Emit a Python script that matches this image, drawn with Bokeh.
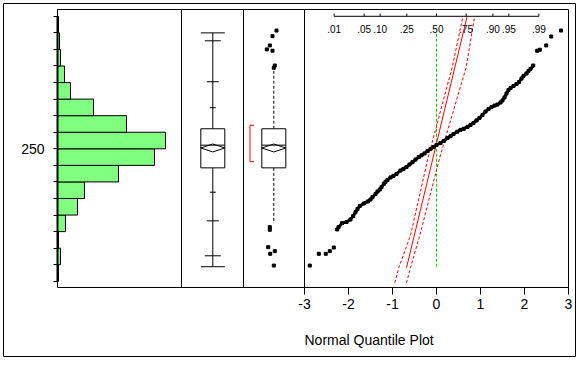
from statistics import NormalDist
from bokeh.plotting import figure
from bokeh.models import Range1d, LinearAxis, FixedTicker, Label
from bokeh.core.properties import value
from bokeh.embed import file_html
from bokeh.resources import INLINE

FONT = "Liberation Sans"

# ---------------- data ----------------
# histogram (value bins of width 10, counts)
bin_low = [170, 180, 190, 200, 210, 220, 230, 240, 250, 260, 270, 280, 290, 300, 310, 320]
bin_counts = [1, 3, 1, 8, 20, 27, 61, 97, 108, 69, 36, 13, 7, 3, 2, 1]
bin_width = 10

# quantile box plot
quantile_names = ["max", "99.5%", "97.5%", "90%", "75%", "median", "25%", "10%", "2.5%", "0.5%", "min"]
quantile_values = [320.0, 315.2, 290.5, 274.8, 262.1, 252.2, 238.5, 223.8, 206.5, 185.4, 178.8]
mean_value = 250.5
mean_ci = [248.1, 252.9]

# outlier box plot
whisker_low = 205.1
whisker_high = 300.3
shortest_half = [242.2, 264.2]
outlier_values = [321.4, 318.0, 312.4, 310.0, 309.2, 300.3, 298.9, 202.7, 201.1, 190.6, 188.2, 186.6, 179.5]
outlier_jitter = [2.7, -1.3, -4.0, -7.0, -1.3, 1.0, 0.0, -4.0, -4.0, -5.6, 1.0, -3.6, 0.0]

# normal quantile plot points (normal quantile, value)
qq_low_q = [-2.880, -2.675, -2.516, -2.425, -2.334]
qq_low_v = [179.5, 186.6, 186.6, 188.2, 190.4]
qq_q = [-2.257, -2.227, -2.148, -2.045, -1.955, -1.893, -1.841, -1.795, -1.743, -1.652,
        -1.561, -1.500, -1.455, -1.386, -1.341, -1.289, -1.250, -1.198, -1.159, -1.114,
        -1.045, -0.977, -0.909, -0.818, -0.750, -0.682, -0.614, -0.545, -0.477, -0.402,
        -0.341, -0.273, -0.205, -0.136, -0.068, 0.000, 0.091, 0.166, 0.250, 0.318,
        0.386, 0.470, 0.545, 0.620, 0.705, 0.773, 0.841, 0.909, 0.977, 1.045,
        1.114, 1.182, 1.250, 1.318, 1.386, 1.455, 1.500, 1.545, 1.591, 1.636,
        1.682, 1.750, 1.818, 1.875, 1.932, 1.977, 2.045, 2.091, 2.136, 2.198]
qq_v = [201.3, 202.7, 205.1, 205.8, 207.3, 209.4, 211.7, 213.7, 215.5, 217.0,
        218.2, 219.4, 220.8, 222.7, 224.2, 225.4, 226.8, 228.9, 230.1, 231.2,
        232.7, 233.7, 234.8, 236.9, 237.9, 239.0, 240.5, 241.9, 243.5, 245.0,
        246.1, 247.2, 248.6, 249.9, 251.1, 252.3, 253.5, 254.8, 256.5, 257.6,
        258.9, 260.3, 261.4, 262.1, 263.2, 264.4, 265.6, 267.1, 268.6, 270.4,
        272.5, 274.0, 275.2, 276.1, 276.7, 278.0, 279.2, 281.0, 283.4, 285.5,
        286.7, 287.9, 289.1, 290.3, 292.4, 294.0, 295.5, 297.0, 298.2, 300.3]
qq_high_q = [2.289, 2.348, 2.493, 2.607, 2.830]
qq_high_v = [309.2, 309.8, 312.4, 317.8, 321.4]

# fitted normal line and confidence bands (quantile, value)
fit_q = [-0.682, 0.693]
fit_v = [178.2, 329.5]
band_v = [169.1, 178.2, 197.7, 244.9, 299.3, 329.5]
band_lo_q = [-0.948, -0.857, -0.591, -0.189, 0.357, 0.598]
band_hi_q = [-0.682, -0.591, -0.380, 0.075, 0.675, 0.864]

# axes
y_ticks = list(range(170, 331, 10))
y_tick_labels = {250: "250"}
x_ticks = [-3, -2, -1, 0, 1, 2, 3]
x_tick_labels = ["-3", "-2", "-1", "0", "1", "2", "3"]
prob_ticks = [0.01, 0.05, 0.10, 0.25, 0.50, 0.75, 0.90, 0.95, 0.99]
prob_labels = [".01", ".05", ".10", ".25", ".50", ".75", ".90", ".95", ".99"]
prob_axis_value = 330.0
prob_label_value = 322.45
xlabel = "Normal Quantile Plot"
xlabel_value = 134.86

# ---------------- layout ----------------
W, H = 578, 359
# outer box = plot frame; inner plotting box drawn inside it
X0, X1 = -9.84091, 3.15909          # quantile units across outer box (44 px / unit)
Y0, Y1 = 124.596, 337.728           # value units across outer box
IN_LEFT, IN_RIGHT = -8.6136, 3.0    # inner box edges (quantile units)
IN_BOTTOM, IN_TOP = 166.26, 334.11  # inner box edges (value units)
PX0, PX1 = -54, 518                 # pixel offsets from inner box left edge

p = figure(width=W, height=H, x_range=Range1d(X0, X1), y_range=Range1d(Y0, Y1),
           output_backend="svg", toolbar_location=None,
           x_axis_type=None, y_axis_type=None,
           min_border_left=3, min_border_right=3, min_border_top=3, min_border_bottom=3)
p.background_fill_color = "white"
p.border_fill_color = "white"
p.outline_line_color = "black"
p.outline_line_width = 1
p.extra_x_ranges = {"hist": Range1d(PX0, PX1), "px": Range1d(PX0, PX1)}

# inner box
p.quad(left=IN_LEFT, right=IN_RIGHT, bottom=IN_BOTTOM, top=IN_TOP,
       fill_color=None, line_color="black", line_width=1)

# panel separators
sep_px = [124, 186, 247]
p.segment(x0=sep_px, x1=sep_px, y0=[IN_BOTTOM] * 3, y1=[IN_TOP] * 3, x_range_name="px",
          line_color="black", line_width=1)

# histogram
centers = [b + bin_width / 2 for b in bin_low]
p.hbar(y=centers, height=bin_width, left=0, right=bin_counts, x_range_name="hist",
       fill_color="#80FF80", line_color="black", line_width=1)

# axes (placed on the inner box edges)
yax = LinearAxis(ticker=FixedTicker(ticks=y_ticks),
                 major_label_overrides={t: y_tick_labels.get(t, "") for t in y_ticks},
                 bounds=(y_ticks[0], y_ticks[-1]), axis_line_width=2, axis_line_color="black",
                 major_tick_out=4, major_tick_in=0, minor_tick_out=0, minor_tick_in=0,
                 major_label_text_font=FONT, major_label_text_font_size="14px",
                 major_label_text_color="black", major_label_standoff=9,
                 fixed_location=IN_LEFT)
p.add_layout(yax, "left")

xax = LinearAxis(ticker=FixedTicker(ticks=x_ticks),
                 major_label_overrides=dict(zip(x_ticks, x_tick_labels)),
                 bounds=(-3, 3), axis_line_color="black",
                 major_tick_out=7, major_tick_in=0, minor_tick_out=0, minor_tick_in=0,
                 major_label_text_font=FONT, major_label_text_font_size="14px",
                 major_label_text_color="black", major_label_standoff=5,
                 fixed_location=IN_BOTTOM)
p.add_layout(xax, "below")

# quantile box plot
qv = dict(zip(quantile_names, quantile_values))
cx = 155.3
half = 12
cap_half = {"max": 12, "99.5%": 8, "97.5%": 6, "90%": 3, "10%": 3, "2.5%": 6, "0.5%": 8, "min": 12}
p.segment(x0=[cx, cx], x1=[cx, cx], y0=[qv["75%"], qv["25%"]], y1=[qv["max"], qv["min"]],
          x_range_name="px", line_color="black")
names = list(cap_half)
p.segment(x0=[cx - cap_half[n] for n in names], x1=[cx + cap_half[n] for n in names],
          y0=[qv[n] for n in names], y1=[qv[n] for n in names], x_range_name="px", line_color="black")


def box(c):
    p.quad(left=c - half, right=c + half, bottom=qv["25%"], top=qv["75%"], x_range_name="px",
           fill_color="white", line_color="black")
    p.segment(x0=c - half, x1=c + half, y0=qv["median"], y1=qv["median"], x_range_name="px",
              line_color="black")
    p.patch(x=[c - half, c, c + half, c], y=[mean_value, mean_ci[1], mean_value, mean_ci[0]],
            x_range_name="px", fill_color=None, line_color="black")


box(cx)

# outlier box plot
cx2 = 216.3
p.segment(x0=[cx2, cx2], x1=[cx2, cx2], y0=[qv["75%"], qv["25%"]], y1=[whisker_high, whisker_low],
          x_range_name="px", line_color="black", line_dash="3 2")
box(cx2)
p.scatter(x=[cx2 + j for j in outlier_jitter], y=outlier_values, x_range_name="px",
          marker="square", size=3, fill_color="black", line_color="black")
bx0, bx1 = 192.5, 196.5
p.multi_line(xs=[[bx1, bx0, bx0, bx1]], ys=[[shortest_half[1], shortest_half[1], shortest_half[0], shortest_half[0]]],
             x_range_name="px", line_color="red", line_width=1)

# normal quantile plot
p.segment(x0=0, x1=0, y0=qv["min"], y1=qv["max"], line_color="#00CC00", line_dash="3 2")
p.line(x=fit_q, y=fit_v, line_color="red", line_width=1)
p.line(x=band_lo_q, y=band_v, line_color="red", line_dash="3 2")
p.line(x=band_hi_q, y=band_v, line_color="red", line_dash="3 2")

p.line(x=qq_q, y=qq_v, line_color="black", line_width=3)
all_q = qq_low_q + qq_q + qq_high_q
all_v = qq_low_v + qq_v + qq_high_v
p.scatter(x=all_q, y=all_v, marker="square", size=3, fill_color="black", line_color="black")

# probability axis at top
nd = NormalDist()
pq = [nd.inv_cdf(pr) for pr in prob_ticks]
p.segment(x0=pq[0], x1=pq[-1], y0=prob_axis_value, y1=prob_axis_value, line_color="black")
p.segment(x0=pq, x1=pq, y0=[prob_axis_value] * len(pq), y1=[prob_axis_value + 1.6] * len(pq),
          line_color="black")
p.text(x=pq, y=[prob_label_value] * len(pq), text=prob_labels, text_font=value(FONT),
       text_font_size="10px", text_align="center", text_baseline="middle", text_color="black")

# x label
p.add_layout(Label(x=-3, y=xlabel_value, text=xlabel, text_font=FONT, text_font_size="14px",
                   text_align="left", text_baseline="middle", text_color="black"))

open("out.html", "w").write(file_html(p, INLINE))
